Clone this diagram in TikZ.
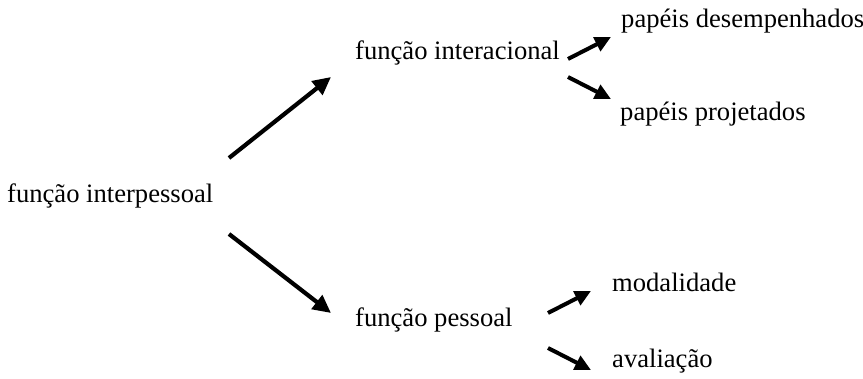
\documentclass[tikz,border=0pt]{standalone}
\usepackage{fontspec}
\setmainfont{Liberation Serif}
\usetikzlibrary{arrows.meta}
\begin{document}
\begin{tikzpicture}[x=1pt,y=-1pt,
  lbl/.style={anchor=base west,inner sep=0pt,font=\fontsize{26.6}{30}\selectfont},
  big/.style={line width=4.2pt,-{Triangle[length=18pt,width=17pt]}},
  small/.style={line width=4pt,-{Triangle[length=16pt,width=15pt]}}]
\useasboundingbox (0,0) rectangle (863,379);
\node[lbl] (fi) at (7,203) {função interpessoal};
\node[lbl] (fint) at (355,60) {função interacional};
\node[lbl] (pd) at (621,28) {papéis desempenhados};
\node[lbl] (pp) at (620,121) {papéis projetados};
\node[lbl] (fp) at (355,327) {função pessoal};
\node[lbl] (mo) at (612,292) {modalidade};
\node[lbl] (av) at (612,368) {avaliação};
\coordinate (a1s) at (229,158); \coordinate (a1e) at (331,77);
\coordinate (a2s) at (229,234); \coordinate (a2e) at (331,313);
\coordinate (b1s) at (568,59); \coordinate (b1e) at (611,37);
\coordinate (b2s) at (568,77); \coordinate (b2e) at (611,99);
\coordinate (c1s) at (548,313); \coordinate (c1e) at (591,291);
\coordinate (c2s) at (548,348); \coordinate (c2e) at (591,370);
\draw[big] (a1s) -- (a1e);
\draw[big] (a2s) -- (a2e);
\draw[small] (b1s) -- (b1e);
\draw[small] (b2s) -- (b2e);
\draw[small] (c1s) -- (c1e);
\draw[small] (c2s) -- (c2e);
\end{tikzpicture}
\end{document}
